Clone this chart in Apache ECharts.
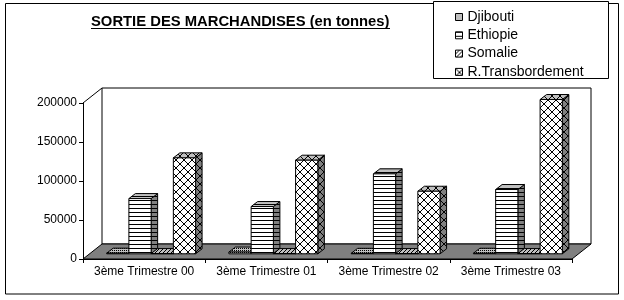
<!DOCTYPE html>
<html>
<head>
<meta charset="utf-8">
<script src="https://cdn.jsdelivr.net/npm/echarts@6/dist/echarts.min.js"></script>
<style>html,body{margin:0;padding:0;background:#fff}#c{width:624px;height:300px}</style>
</head>
<body>
<div id="c"></div>
<script>
const categories = ['3ème Trimestre 00', '3ème Trimestre 01', '3ème Trimestre 02', '3ème Trimestre 03'];
const seriesNames = ['Djibouti', 'Ethiopie', 'Somalie', 'R.Transbordement'];
const djibouti = [800, 2200, 600, 700];
const ethiopie = [70800, 60600, 102500, 82400];
const somalie = [300, 300, 300, 300];
const transbordement = [123000, 120000, 80200, 197800];
const yTicks = [0, 50000, 100000, 150000, 200000];

const FONT = '"Liberation Sans", Arial, sans-serif';
// depth geometry (pixels)
const DX = 19, DY = -15;
const FDX = 7, FDY = -5.2, BDX = 13.5, BDY = -10.2;

function makePattern(type, bg) {
  const sizes = {dots: 2, hlines: 4, diag: 4, cross: 8};
  const n = sizes[type];
  const c = document.createElement('canvas');
  c.width = n; c.height = n;
  const g = c.getContext('2d');
  g.fillStyle = bg; g.fillRect(0, 0, n, n);
  g.fillStyle = '#000';
  if (type === 'dots') { g.fillRect(0, 0, 1, 1); }
  if (type === 'hlines') { g.fillRect(0, 0, n, 1); }
  if (type === 'diag') { for (let i = 0; i < n; i++) g.fillRect(n - 1 - i, i, 1, 1); }
  if (type === 'cross') { for (let i = 0; i < n; i++) { g.fillRect(i, i, 1, 1); g.fillRect(n - 1 - i, i, 1, 1); } }
  return {image: c, repeat: 'repeat'};
}
const patternTypes = ['dots', 'hlines', 'diag', 'cross'];
const fronts = patternTypes.map(t => makePattern(t, '#ffffff'));
const sides = patternTypes.map(t => makePattern(t, '#808080'));
const tops = patternTypes.map(t => makePattern(t, '#c0c0c0'));
const allValues = [djibouti, ethiopie, somalie, transbordement];

function barRenderer(s) {
  return function (params, api) {
    const ci = api.value(0), v = api.value(1);
    const base = api.coord([ci, 0]);
    const top = api.coord([ci, v]);
    const band = api.size([1, 0])[0];
    const w = band / 5.5;
    const x0 = base[0] - 2 * w + s * w + FDX;
    const x1 = x0 + w;
    const yb = base[1] + FDY;
    const yt = top[1] + FDY;
    const ddx = BDX - FDX, ddy = BDY - FDY;
    const st = {stroke: '#000', lineWidth: 1};
    return {
      type: 'group',
      children: [
        {type: 'polygon', shape: {points: [[x1, yt], [x1 + ddx, yt + ddy], [x1 + ddx, yb + ddy], [x1, yb]]}, style: Object.assign({fill: sides[s]}, st)},
        {type: 'polygon', shape: {points: [[x0, yt], [x0 + ddx, yt + ddy], [x1 + ddx, yt + ddy], [x1, yt]]}, style: Object.assign({fill: tops[s]}, st)},
        {type: 'polygon', shape: {points: [[x0, yt], [x1, yt], [x1, yb], [x0, yb]]}, style: Object.assign({fill: fronts[s]}, st)}
      ]
    };
  };
}

function bgRenderer(params, api) {
  const band = api.size([1, 0])[0];
  const xl = api.coord([0, 0])[0] - band / 2;
  const xr = api.coord([categories.length - 1, 0])[0] + band / 2;
  const yb = api.coord([0, 0])[1];
  const yt = api.coord([0, yTicks[yTicks.length - 1]])[1];
  return {
    type: 'group',
    children: [
      {type: 'polygon', shape: {points: [[xl + DX, yt + DY], [xr + DX, yt + DY], [xr + DX, yb + DY], [xl + DX, yb + DY]]}, style: {fill: '#fff', stroke: '#000', lineWidth: 1}},
      {type: 'line', shape: {x1: xl, y1: yt, x2: xl + DX, y2: yt + DY}, style: {stroke: '#000', lineWidth: 1}},
      {type: 'polygon', shape: {points: [[xl, yb], [xr, yb], [xr + DX, yb + DY], [xl + DX, yb + DY]]}, style: {fill: '#808080', stroke: '#000', lineWidth: 1}}
    ]
  };
}

const chart = echarts.init(document.getElementById('c'), null, {renderer: 'canvas'});
const series = [{
  type: 'custom', name: '_bg', silent: true, z: 1,
  renderItem: bgRenderer, data: [[0, 0]], encode: {x: 0, y: 1}
}];
seriesNames.forEach((name, s) => {
  series.push({
    type: 'custom', name: name, z: 2 + s,
    renderItem: barRenderer(s),
    itemStyle: {color: fronts[s], borderColor: '#000', borderWidth: 1},
    data: allValues[s].map((v, i) => [i, v]),
    encode: {x: 0, y: 1}
  });
});

chart.setOption({
  animation: false,
  backgroundColor: '#fff',
  textStyle: {fontFamily: FONT},
  grid: {left: 83, right: 52, top: 103, bottom: 41, containLabel: false},
  xAxis: {
    type: 'category', data: categories,
    axisLine: {show: true, lineStyle: {color: '#000', width: 1}},
    axisTick: {show: true, length: 4, lineStyle: {color: '#000'}},
    axisLabel: {color: '#000', fontSize: 12, fontFamily: FONT, margin: 7, interval: 0},
    splitLine: {show: false}, z: 10
  },
  yAxis: {
    type: 'value', min: yTicks[0], max: yTicks[yTicks.length - 1], interval: yTicks[1] - yTicks[0],
    axisLine: {show: true, lineStyle: {color: '#000', width: 1}},
    axisTick: {show: true, length: 4, lineStyle: {color: '#000'}},
    axisLabel: {color: '#000', fontSize: 12, fontFamily: FONT, margin: 6, formatter: v => String(v)},
    splitLine: {show: false}, z: 10
  },
  legend: {
    orient: 'vertical', left: 455, top: 10, padding: 0,
    itemWidth: 7, itemHeight: 7, itemGap: 4.3,
    icon: 'rect',
    textStyle: {fontSize: 14, fontFamily: FONT, color: '#000', lineHeight: 14},
    data: seriesNames.map((n, s) => ({name: n, icon: 'rect', itemStyle: {color: fronts[s], borderColor: '#000', borderWidth: 1}}))
  },
  graphic: [
    {type: 'rect', z: -10, silent: true, shape: {x: 5.5, y: 3.5, width: 613, height: 290.5}, style: {fill: 'none', stroke: '#000', lineWidth: 1}},
    {type: 'rect', z: -5, silent: true, shape: {x: 433.5, y: 1.5, width: 175, height: 77}, style: {fill: '#fff', stroke: '#000', lineWidth: 1}},
    {type: 'text', silent: true, style: {text: 'SORTIE DES MARCHANDISES (en tonnes)', x: 91, y: 22, verticalAlign: 'middle', font: 'bold 14.8px ' + FONT, fill: '#000'}},
    {type: 'line', silent: true, shape: {x1: 91, y1: 28.5, x2: 390, y2: 28.5}, style: {stroke: '#000', lineWidth: 1}}
  ],
  series: series
});
</script>
</body>
</html>
